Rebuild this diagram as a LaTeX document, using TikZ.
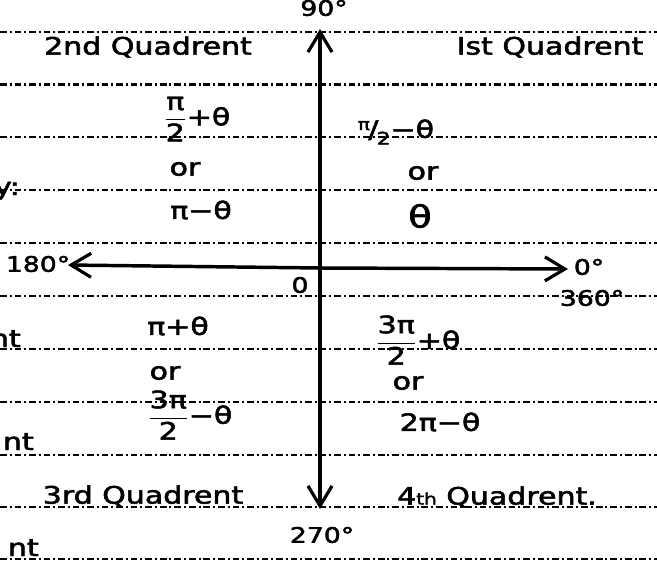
\documentclass[tikz,border=0pt]{standalone}
\usepackage{fontspec}
\setmainfont{DejaVu Sans}[FakeBold=2]
\usepackage{graphicx}
\usetikzlibrary{arrows.meta}
\newcommand\hw[1]{\scalebox{1.25}[1]{#1}}
\newcommand\fr[2]{$\displaystyle\frac{\mbox{#1}}{\mbox{#2}}$}
\newcommand\sfr[2]{\raisebox{6pt}{\fontsize{12}{12}\selectfont #1}\kern-1pt/\kern-1pt\raisebox{-5pt}{\fontsize{13}{13}\selectfont #2}}
\begin{document}
\begin{tikzpicture}[x=0.75pt,y=-0.75pt,
  rule/.style={line width=1.6pt, dash pattern=on 5pt off 2.2pt on 1.5pt off 2.2pt},
  axis/.style={line width=2.6pt, -{Straight Barb[length=15pt,width=18pt,line width=2.4pt]}},
  lab/.style={font=\fontsize{18}{20}\selectfont, inner sep=0pt},
  big/.style={font=\fontsize{23}{25}\selectfont, inner sep=0pt},
  quad/.style={font=\fontsize{18}{20}\selectfont, inner sep=0pt},
  small/.style={font=\fontsize{16}{18}\selectfont, inner sep=0pt}]
\clip (0,0) rectangle (657,564);
\fill[white] (0,0) rectangle (657,564);
% ruled lines
\foreach \y in {32,84.5,137,190,243,296,349,402,455,507,559}
  \draw[rule] (0,\y) -- (657,\y);
% axes
\coordinate (O) at (320,268);
\coordinate (E) at (568,269);
\coordinate (W) at (68,265);
\coordinate (N) at (320,29);
\coordinate (S) at (320,509);
\draw[axis] (O) -- (E);
\draw[axis] (O) -- (W);
\draw[axis] (O) -- (N);
\draw[axis] (O) -- (S);
% axis labels
\node[small] (l90) at (324,8) {\hw{90°}};
\node[small] (l180) at (38,264) {\hw{180°}};
\node[small] (l0) at (589,267) {\hw{0°}};
\node[small] (l360) at (592,298) {\hw{360°}};
\node[small] (lO) at (300,285) {\hw{0}};
\node[small] (l270) at (322,535) {\hw{270°}};
% quadrant names
\node[quad] (q2) at (148,47) {\hw{2nd Quadrent}};
\node[quad] (q1) at (550,47) {\hw{Ist Quadrent}};
\node[quad] (q3) at (143,496) {\hw{3rd Quadrent}};
\node[quad] (q4) at (497,497) {\hw{4{\fontsize{12}{12}\selectfont th} Quadrent.}};
% 2nd quadrant
\node[lab] (a1) at (197,119) {\hw{\fr{π}{2}+θ}};
\node[lab] (a2) at (185,169) {\hw{or}};
\node[lab] (a3) at (201,210) {\hw{π−θ}};
% 1st quadrant
\node[lab] (b1) at (396,132) {\hw{\sfr{π}{2}−θ}};
\node[lab] (b2) at (423,173) {\hw{or}};
\node[big] (b3) at (420,216) {\hw{θ}};
% 3rd quadrant
\node[lab] (c1) at (178,326) {\hw{π+θ}};
\node[lab] (c2) at (165,373) {\hw{or}};
\node[lab] (c3) at (190,415) {\hw{\fr{3π}{2}−θ}};
% 4th quadrant
\node[lab] (d1) at (418,340) {\hw{\fr{3π}{2}+θ}};
\node[lab] (d2) at (408,383) {\hw{or}};
\node[lab] (d3) at (440,422) {\hw{2π−θ}};
% cut-off margin text
\node[lab, anchor=base east] (m1) at (20,195) {\hw{y:}};
\node[lab, anchor=base east] (m2) at (21,347) {\hw{nt}};
\node[lab, anchor=base east] (m3) at (34,450) {\hw{nt}};
\node[lab, anchor=base east] (m4) at (39,556) {\hw{nt}};
\end{tikzpicture}
\end{document}
